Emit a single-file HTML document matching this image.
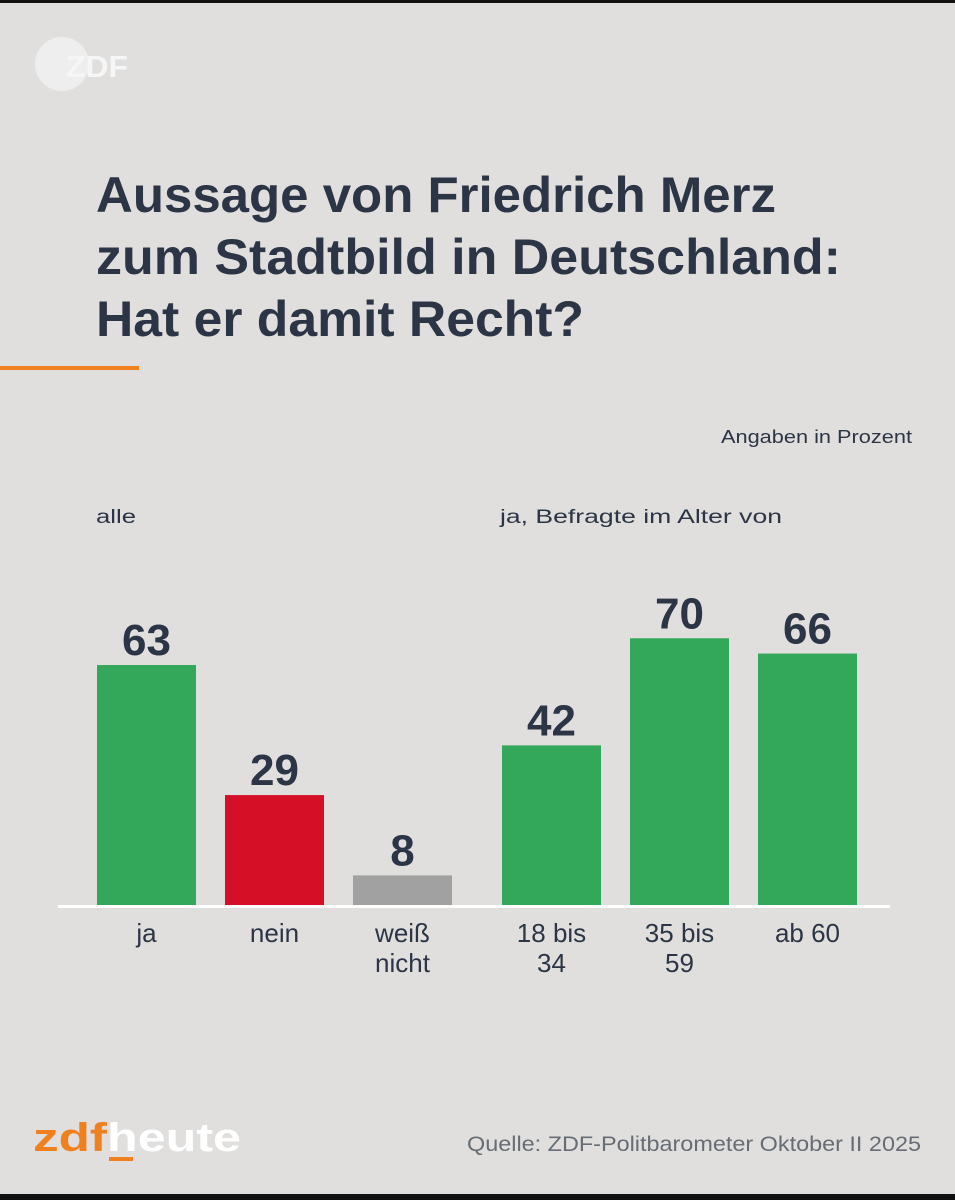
<!DOCTYPE html>
<html><head><meta charset="utf-8">
<style>
html,body{margin:0;padding:0;background:#e0dfde;}
svg{display:block;font-family:"Liberation Sans",sans-serif;}
</style></head>
<body>
<svg id="chart" width="955" height="1200" viewBox="0 0 955 1200" xmlns="http://www.w3.org/2000/svg">
<rect x="0" y="0" width="955" height="1200" fill="#e0dfde"/>
<rect x="0" y="0" width="955" height="3" fill="#111"/>
<rect x="0" y="1194" width="955" height="6" fill="#111"/>
<g>
<circle cx="62" cy="64" r="27" fill="#efeeee"/>
<text x="66" y="77" font-size="31" font-weight="bold" fill="#f6f6f6" textLength="62" lengthAdjust="spacingAndGlyphs">ZDF</text>
</g>
<g fill="#2b3545" font-weight="bold" font-size="50">
<text x="96" y="212" textLength="680" lengthAdjust="spacingAndGlyphs">Aussage von Friedrich Merz</text>
<text x="96" y="274" textLength="745" lengthAdjust="spacingAndGlyphs">zum Stadtbild in Deutschland:</text>
<text x="96" y="336" textLength="488" lengthAdjust="spacingAndGlyphs">Hat er damit Recht?</text>
</g>
<rect x="0" y="366" width="139" height="4" fill="#f07f1d"/>
<text x="912" y="443" text-anchor="end" font-size="18" fill="#2b3545" textLength="191" lengthAdjust="spacingAndGlyphs">Angaben in Prozent</text>
<text x="96" y="523" font-size="19" fill="#2b3545" textLength="40" lengthAdjust="spacingAndGlyphs">alle</text>
<text x="500" y="523" font-size="19" fill="#2b3545" textLength="282" lengthAdjust="spacingAndGlyphs">ja, Befragte im Alter von</text>
<g id="bars"></g>
<rect x="58" y="905" width="832" height="3" fill="#ffffff"/>
<g font-weight="bold" font-size="40">
<text x="33" y="1151" fill="#f07f1d" textLength="74" lengthAdjust="spacingAndGlyphs">zdf</text>
<text x="107" y="1151" fill="#ffffff" textLength="134" lengthAdjust="spacingAndGlyphs">heute</text>
<rect x="109" y="1157" width="24" height="4" fill="#f07f1d"/>
</g>
<text x="921" y="1151" text-anchor="end" font-size="21" fill="#676d75" textLength="454" lengthAdjust="spacingAndGlyphs">Quelle: ZDF-Politbarometer Oktober II 2025</text>
</svg>
<script>
const categories = [["ja"], ["nein"], ["weiß", "nicht"], ["18 bis", "34"], ["35 bis", "59"], ["ab 60"]];
const values = [63, 29, 8, 42, 70, 66];
const barColors = ["#34a85a", "#d50f25", "#a1a1a1", "#34a85a", "#34a85a", "#34a85a"];
const barNames = ["ja", "nein", "weiss-nicht", "18-34", "35-59", "ab-60"];

const NS = "http://www.w3.org/2000/svg";
const baseY = 906, pxPerUnit = 3.825, barW = 99;
const slotX = i => i < 3 ? 97 + i * 128 : 502 + (i - 3) * 128;
const yScale = v => baseY - v * pxPerUnit;
const g = document.getElementById("bars");
values.forEach((v, i) => {
  const x = slotX(i), top = yScale(v);
  const r = document.createElementNS(NS, "rect");
  r.setAttribute("x", x); r.setAttribute("y", top);
  r.setAttribute("width", barW); r.setAttribute("height", baseY - top);
  r.setAttribute("fill", barColors[i]);
  
  
  g.appendChild(r);
  const t = document.createElementNS(NS, "text");
  t.setAttribute("x", x + barW / 2); t.setAttribute("y", top - 10);
  t.setAttribute("text-anchor", "middle"); t.setAttribute("font-size", "44");
  t.setAttribute("font-weight", "bold"); t.setAttribute("fill", "#2b3545");
  t.textContent = v;
  
  
  g.appendChild(t);
  categories[i].forEach((line, j) => {
    const c = document.createElementNS(NS, "text");
    c.setAttribute("x", x + barW / 2); c.setAttribute("y", 942 + j * 30);
    c.setAttribute("text-anchor", "middle"); c.setAttribute("font-size", "26");
    c.setAttribute("fill", "#2b3545");
    c.textContent = line;
    
    
    g.appendChild(c);
  });
});
</script>
</body></html>
